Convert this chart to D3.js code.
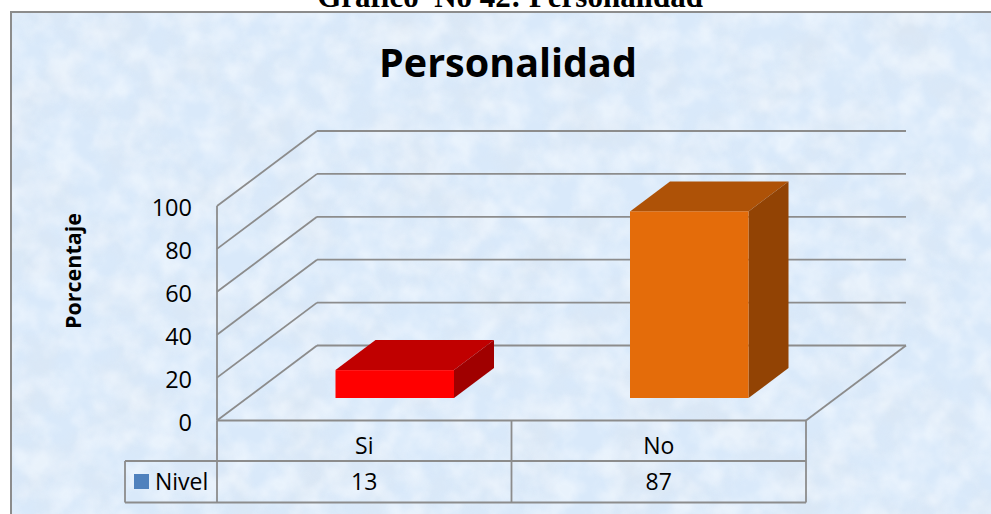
<!DOCTYPE html>
<html><head><meta charset="utf-8">
<script src="https://cdn.jsdelivr.net/npm/d3@7"></script>
<style>html,body{margin:0;padding:0;background:#fff;overflow:hidden}svg{display:block}</style>
</head><body><div id="c"></div>
<script>
const categories = ["Si","No"];
const values = [13,87];
const barColors = ["#ff0000","#e46c0a"];
const barTops = ["#c00000","#ae5207"];
const barSides = ["#a00000","#924304"];
const yTicks = [0,20,40,60,80,100];
const seriesName = "Nivel";
const W=991,H=514;
const svg=d3.select("#c").append("svg").attr("width",W).attr("height",H);
const defs=svg.append("defs");
function tex(id,freq,seed,rgb,a,b){
  const f=defs.append("filter").attr("id",id).attr("x",0).attr("y",0).attr("width","100%").attr("height","100%");
  f.append("feTurbulence").attr("type","fractalNoise").attr("baseFrequency",freq).attr("numOctaves",5).attr("seed",seed);
  f.append("feColorMatrix").attr("type","matrix").attr("values",`0 0 0 0 ${rgb[0]}  0 0 0 0 ${rgb[1]}  0 0 0 0 ${rgb[2]}  ${a} 0 0 0 ${b}`);
  f.append("feGaussianBlur").attr("stdDeviation",1);
}
tex("texDark",0.018,7,[0.72,0.79,0.87],2.4,-0.95);
tex("texLight",0.04,21,[0.92,0.96,1.0],2.4,-0.85);

const frame={x:11,y:12,w:1000,h:520};
const layer=()=>svg.append("rect").attr("x",frame.x).attr("y",frame.y).attr("width",frame.w).attr("height",frame.h);
layer().attr("fill","#d9e9fa");
layer().attr("filter","url(#texDark)").attr("opacity",0.5);
layer().attr("filter","url(#texLight)").attr("opacity",0.55);
layer().attr("fill","none").attr("stroke","#8c8c8c").attr("stroke-width",2);

svg.append("text").attr("x",510).attr("y",7).attr("text-anchor","middle").style("white-space","pre")
  .attr("font-family","'Liberation Serif',serif").attr("font-weight","bold").attr("font-size",31)
  .text("Gráfico  No 42: Personalidad");
const sans="'Open Sans','Noto Sans',sans-serif";
svg.append("text").attr("x",508).attr("y",77).attr("text-anchor","middle")
  .attr("font-family",sans).attr("font-weight","bold").attr("font-size",39.5).text("Personalidad");

const x=d3.scaleBand().domain(categories).range([217,806]);
const y=d3.scaleLinear().domain([0,100]).range([420.5,206]);
const depth={x:100,y:-75};
const grid="#8c8c8c";
const g=svg.append("g").attr("fill","none").attr("stroke",grid).attr("stroke-width",1.8);
const line=(a,b)=>g.append("line").attr("x1",a[0]).attr("y1",a[1]).attr("x2",b[0]).attr("y2",b[1]);
yTicks.forEach(t=>{
  line([x.range()[0],y(t)],[x.range()[0]+depth.x,y(t)+depth.y]);
  line([x.range()[0]+depth.x,y(t)+depth.y],[906,y(t)+depth.y]);
});
line([x.range()[0],y(0)],[x.range()[0],y(100)]);
line([x.range()[0],y(0)],[x.range()[1],y(0)]);
line([x.range()[1],y(0)],[906,y(0)+depth.y]);

const yAxisG=svg.append("g").attr("transform","translate(192,1.5)")
  .call(d3.axisLeft(y).tickValues(yTicks).tickSize(0).tickPadding(0));
yAxisG.select(".domain").remove();
yAxisG.selectAll("text").attr("font-family",sans).attr("font-size",23.5).attr("fill","#000").attr("dy","0.35em");

svg.append("text").attr("transform","translate(81,271) rotate(-90)").attr("text-anchor","middle")
  .attr("font-family",sans).attr("font-weight","bold").attr("font-size",21.5).text("Porcentaje");

// bars
const barW=118.5, d2={x:40,y:-30}, barInset=(x.bandwidth()-barW)/2+30.5;
const floorY=398;
categories.forEach((c,i)=>{
  const x0=x(c)+barInset, x1=x0+barW, h=y(0)-y(values[i]), t=floorY-h;
  const bar=svg.append("g");
  const poly=(pts,fill)=>bar.append("polygon").attr("points",pts.map(p=>p.join(",")).join(" ")).attr("fill",fill);
  poly([[x0,t],[x1,t],[x1+d2.x,t+d2.y],[x0+d2.x,t+d2.y]],barTops[i]);
  poly([[x1,t],[x1+d2.x,t+d2.y],[x1+d2.x,floorY+d2.y],[x1,floorY]],barSides[i]);
  bar.append("rect").attr("x",x0).attr("y",t).attr("width",barW).attr("height",h).attr("fill",barColors[i]);
});

// data table
const tTop=y(0), tMid=461, tBot=502.5, tLeft=125;
const tg=svg.append("g").attr("fill","none").attr("stroke",grid).attr("stroke-width",1.8);
const tl=(a,b,c,d)=>tg.append("line").attr("x1",a).attr("y1",b).attr("x2",c).attr("y2",d);
tl(tLeft,tMid,x.range()[1],tMid);
tl(tLeft,tBot,x.range()[1],tBot);
tl(tLeft,tMid,tLeft,tBot);
tl(x.range()[0],tTop,x.range()[0],tBot);
tl(x(categories[1]),tTop,x(categories[1]),tBot);
tl(x.range()[1],tTop,x.range()[1],tBot);
categories.forEach((c,i)=>{
  const cx=x(c)+x.bandwidth()/2;
  svg.append("text").attr("x",cx).attr("y",454).attr("text-anchor","middle").attr("font-family",sans).attr("font-size",23).text(c);
  svg.append("text").attr("x",cx).attr("y",490).attr("text-anchor","middle").attr("font-family",sans).attr("font-size",23).text(values[i]);
});
svg.append("rect").attr("x",134).attr("y",474).attr("width",15).attr("height",15).attr("fill","#4f81bd");
svg.append("text").attr("x",155).attr("y",490).attr("font-family",sans).attr("font-size",23).text(seriesName);
</script></body></html>
